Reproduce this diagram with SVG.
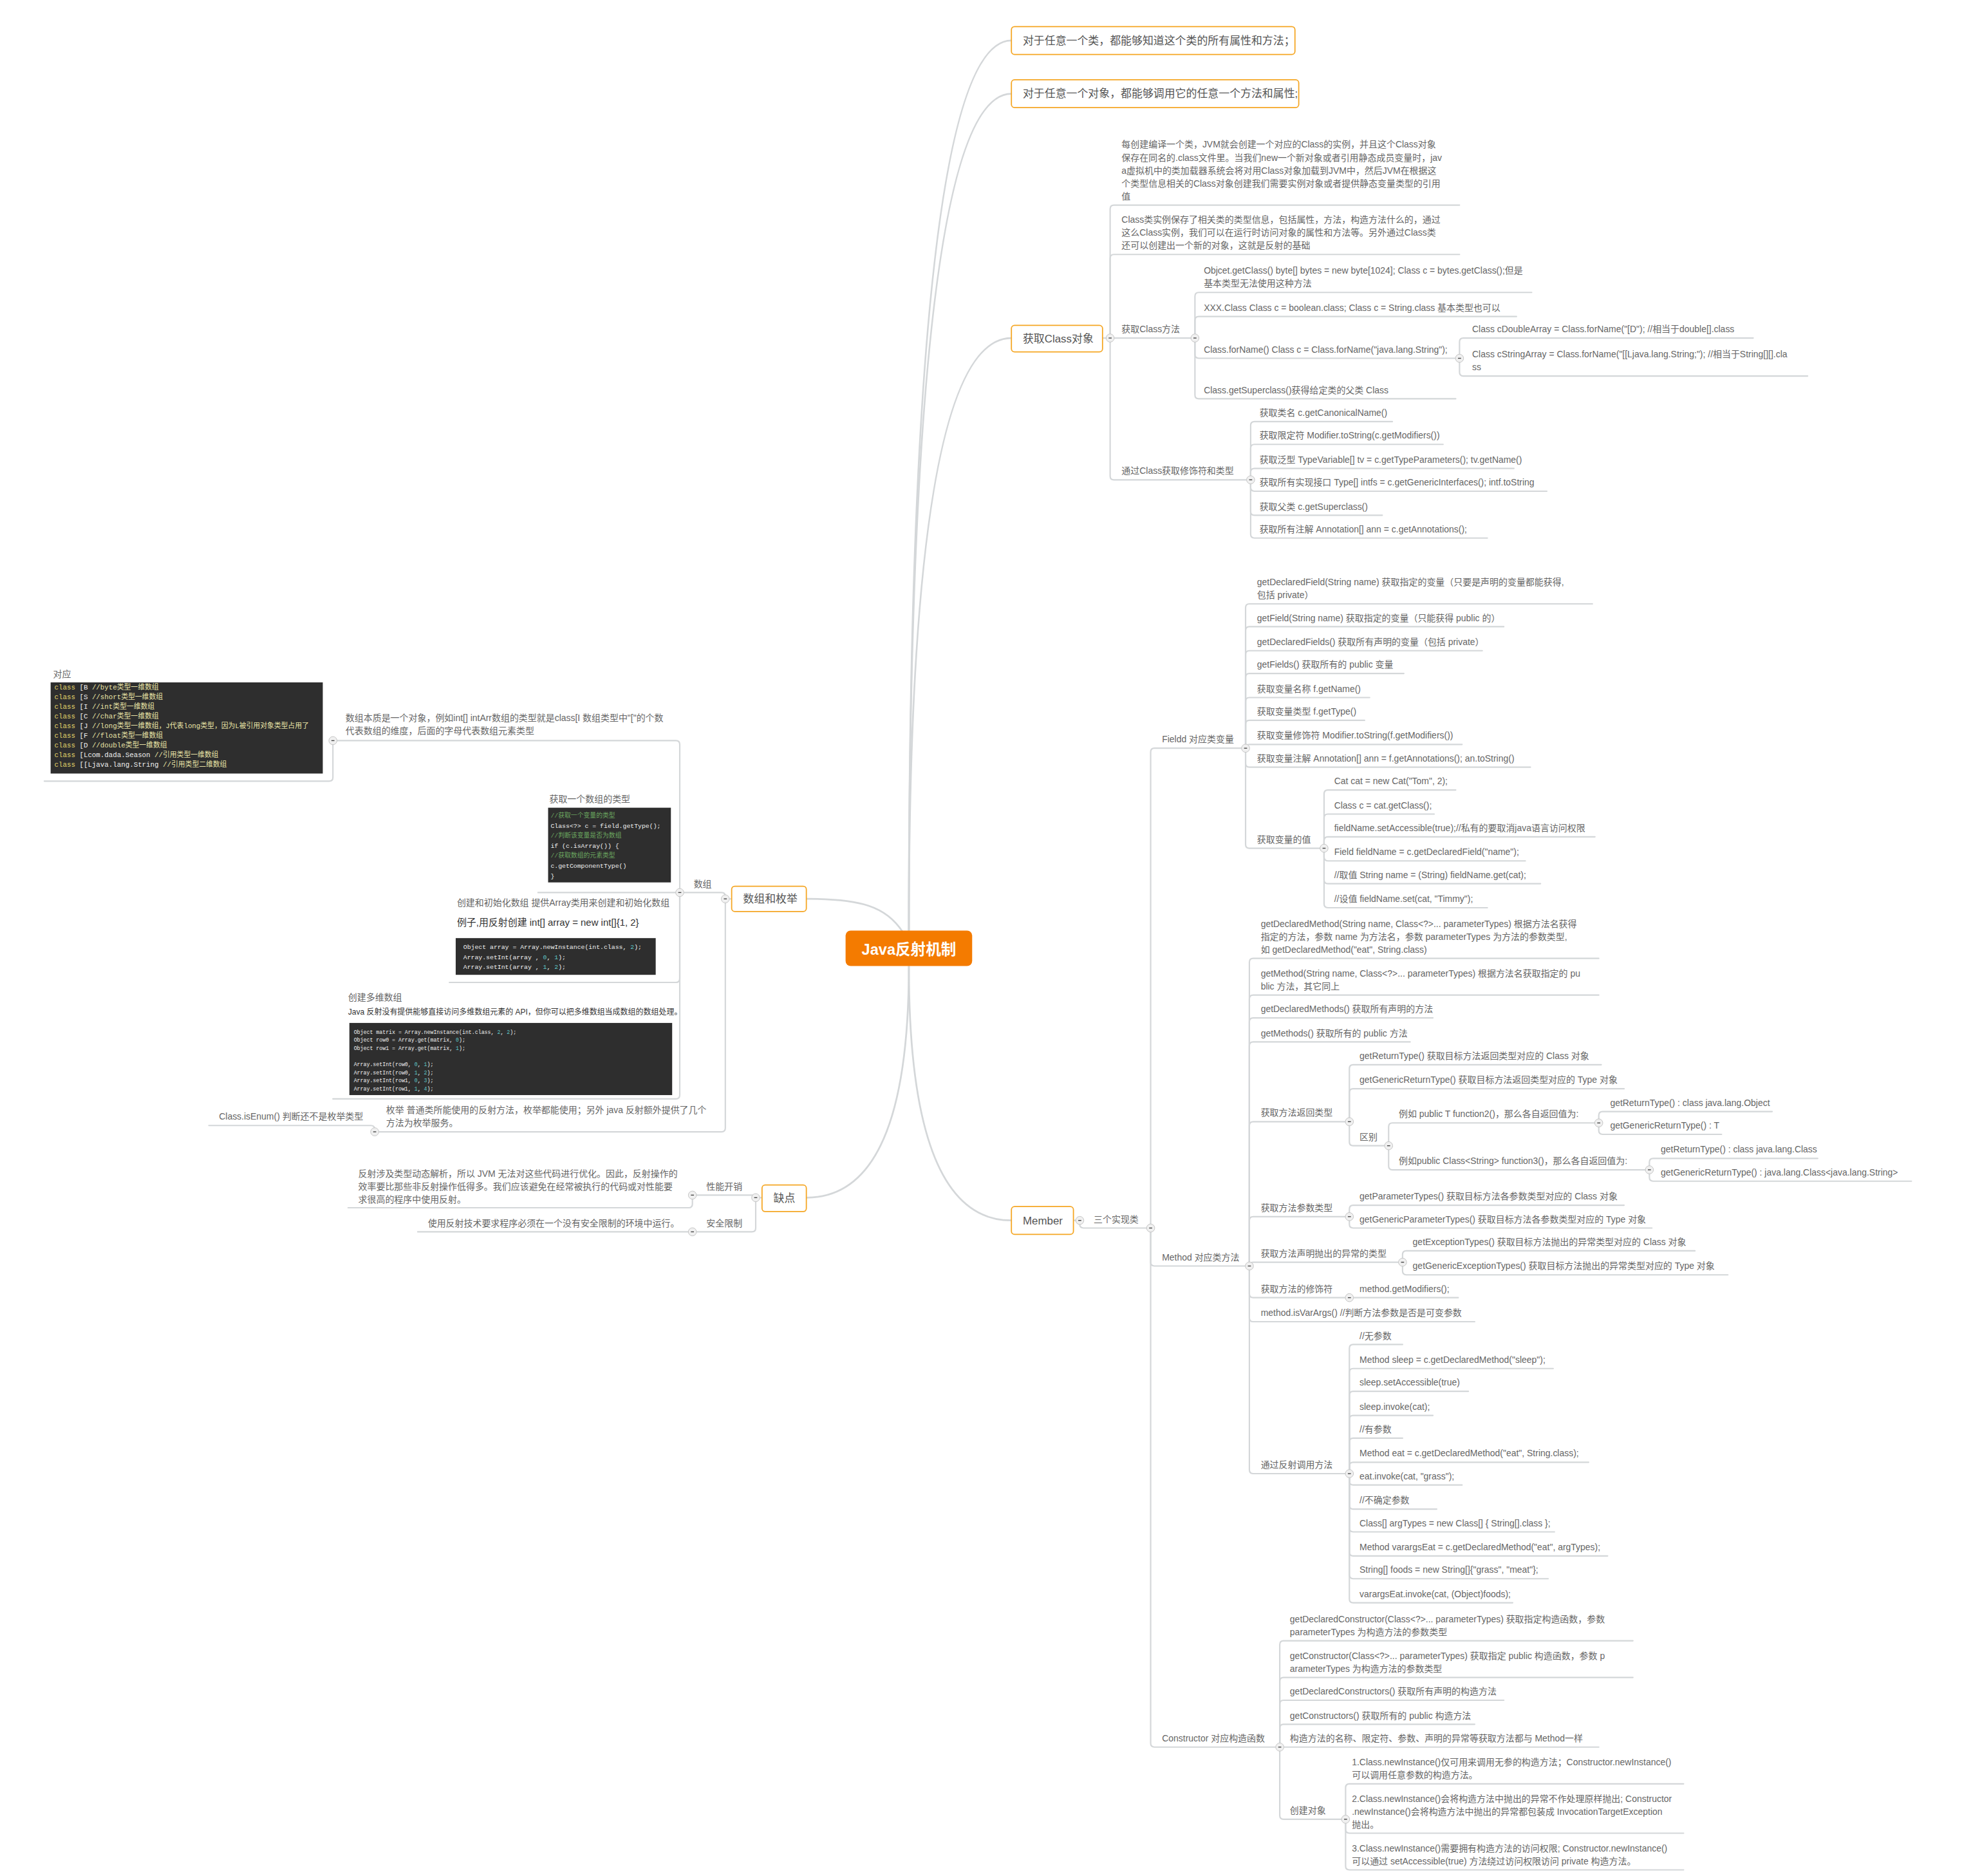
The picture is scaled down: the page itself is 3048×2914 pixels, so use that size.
<svg xmlns="http://www.w3.org/2000/svg" width="3048" height="2914" viewBox="0 0 3048 2914">
<style>
.t{font-family:"Liberation Sans","Noto Sans CJK SC",sans-serif;font-size:7.1px;fill:#666}
.bt{font-family:"Liberation Sans","Noto Sans CJK SC",sans-serif;font-size:8.6px;fill:#555}
.box{fill:#fff;stroke:#f5a623;stroke-width:0.9}
.ln{fill:none;stroke:#d4d7d9;stroke-width:1.1;stroke-linecap:round}
.br{fill:none;stroke:#d4d7d9;stroke-width:1.4}
.code{fill:#2e2e2e}
.mono{font-family:"Liberation Mono","Noto Sans CJK SC",monospace}
.y{fill:#e2d46a}.w{fill:#f0f0f0}.c{fill:#e9e4a6}.g{fill:#6aa45f}.n{fill:#5fc4c4}
.dk{font-family:"Liberation Sans","Noto Sans CJK SC",sans-serif;fill:#333}
</style>
<defs>
<g id="tg"><circle r="3.2" fill="#f0f0f0" stroke="#c4c4c4" stroke-width="0.5"/><rect x="-1.2" y="-0.35" width="2.4" height="0.7" fill="#444"/></g>
</defs>
<rect width="3048" height="2914" fill="#fff"/>
<g transform="scale(1.9665)" xml:space="preserve">
<g id="connectors">
<path class="br" d="M718 735 Q718 32 799 32"/>
<path class="br" d="M718 735 Q718 74 799 74"/>
<path class="br" d="M718 735 Q718 267 799 267"/>
<path class="br" d="M718 763 Q718 964 799 964"/>
<path class="br" d="M713 736 C700 716 680 710 637 710"/>
<path class="br" d="M718 763 Q718 946 637 946"/>
<path class="ln" d="M871 267 H877"/>
<path class="ln" d="M877 267 V165 Q877 162 880 162 H1153"/>
<path class="ln" d="M877 267 V204 Q877 201 880 201 H1153"/>
<path class="ln" d="M877 267 H944"/>
<path class="ln" d="M877 267 V376 Q877 379 880 379 H988"/>
<path class="ln" d="M944 267 V234 Q944 231 947 231 H1210"/>
<path class="ln" d="M944 267 V253 Q944 250 947 250 H1198"/>
<path class="ln" d="M944 267 V280 Q944 283 947 283 H1153"/>
<path class="ln" d="M944 267 V312 Q944 315 947 315 H1150"/>
<path class="ln" d="M1153 283 V270 Q1153 267 1156 267 H1385"/>
<path class="ln" d="M1153 283 V294 Q1153 297 1156 297 H1428"/>
<path class="ln" d="M988 379 V336 Q988 333 991 333 H1100"/>
<path class="ln" d="M988 379 V354 Q988 351 991 351 H1140"/>
<path class="ln" d="M988 379 V373 Q988 370 991 370 H1196"/>
<path class="ln" d="M988 379 V385 Q988 388 991 388 H1222"/>
<path class="ln" d="M988 379 V404 Q988 407 991 407 H1092"/>
<path class="ln" d="M988 379 V422 Q988 425 991 425 H1175"/>
<path class="ln" d="M848 964 H853"/>
<path class="ln" d="M853 964 V967 Q853 970 856 970 H909"/>
<path class="ln" d="M909 970 V594 Q909 591 912 591 H984"/>
<path class="ln" d="M909 970 V997 Q909 1000 912 1000 H987"/>
<path class="ln" d="M909 970 V1377 Q909 1380 912 1380 H1011"/>
<path class="ln" d="M984 591 V480 Q984 477 987 477 H1258"/>
<path class="ln" d="M984 591 V498 Q984 495 987 495 H1188"/>
<path class="ln" d="M984 591 V517 Q984 514 987 514 H1171"/>
<path class="ln" d="M984 591 V535 Q984 532 987 532 H1109"/>
<path class="ln" d="M984 591 V554 Q984 551 987 551 H1082"/>
<path class="ln" d="M984 591 V572 Q984 569 987 569 H1078"/>
<path class="ln" d="M984 591 Q984 588 987 588 H1155"/>
<path class="ln" d="M984 591 V603 Q984 606 987 606 H1209"/>
<path class="ln" d="M984 591 V667 Q984 670 987 670 H1046"/>
<path class="ln" d="M1046 670 V627 Q1046 624 1049 624 H1150"/>
<path class="ln" d="M1046 670 V646 Q1046 643 1049 643 H1133"/>
<path class="ln" d="M1046 670 V664 Q1046 661 1049 661 H1260"/>
<path class="ln" d="M1046 670 V677 Q1046 680 1049 680 H1205"/>
<path class="ln" d="M1046 670 V695 Q1046 698 1049 698 H1217"/>
<path class="ln" d="M1046 670 V714 Q1046 717 1049 717 H1175"/>
<path class="ln" d="M987 1000 V760 Q987 757 990 757 H1263"/>
<path class="ln" d="M987 1000 V789 Q987 786 990 786 H1263"/>
<path class="ln" d="M987 1000 V807 Q987 804 990 804 H1132"/>
<path class="ln" d="M987 1000 V826 Q987 823 990 823 H1114"/>
<path class="ln" d="M987 1000 V889 Q987 886 990 886 H1066"/>
<path class="ln" d="M987 1000 V964 Q987 961 990 961 H1066"/>
<path class="ln" d="M987 1000 Q987 997 990 997 H1108"/>
<path class="ln" d="M987 1000 V1022 Q987 1025 990 1025 H1066"/>
<path class="ln" d="M987 1000 V1041 Q987 1044 990 1044 H1165"/>
<path class="ln" d="M987 1000 V1161 Q987 1164 990 1164 H1066"/>
<path class="ln" d="M1066 886 V844 Q1066 841 1069 841 H1265"/>
<path class="ln" d="M1066 886 V863 Q1066 860 1069 860 H1283"/>
<path class="ln" d="M1066 886 V902 Q1066 905 1069 905 H1097"/>
<path class="ln" d="M1097 905 V890 Q1097 887 1100 887 H1263"/>
<path class="ln" d="M1097 905 V921 Q1097 924 1100 924 H1303"/>
<path class="ln" d="M1263 887 V881 Q1263 878 1266 878 H1400"/>
<path class="ln" d="M1263 887 V893 Q1263 896 1266 896 H1360"/>
<path class="ln" d="M1303 924 V918 Q1303 915 1306 915 H1436"/>
<path class="ln" d="M1303 924 V930 Q1303 933 1306 933 H1510"/>
<path class="ln" d="M1066 961 V955 Q1066 952 1069 952 H1283"/>
<path class="ln" d="M1066 961 V967 Q1066 970 1069 970 H1305"/>
<path class="ln" d="M1108 997 V991 Q1108 988 1111 988 H1339"/>
<path class="ln" d="M1108 997 V1004 Q1108 1007 1111 1007 H1365"/>
<path class="ln" d="M1066 1025 H1152"/>
<path class="ln" d="M1066 1164 V1065 Q1066 1062 1069 1062 H1108"/>
<path class="ln" d="M1066 1164 V1084 Q1066 1081 1069 1081 H1227"/>
<path class="ln" d="M1066 1164 V1102 Q1066 1099 1069 1099 H1160"/>
<path class="ln" d="M1066 1164 V1121 Q1066 1118 1069 1118 H1132"/>
<path class="ln" d="M1066 1164 V1139 Q1066 1136 1069 1136 H1108"/>
<path class="ln" d="M1066 1164 V1158 Q1066 1155 1069 1155 H1255"/>
<path class="ln" d="M1066 1164 V1170 Q1066 1173 1069 1173 H1155"/>
<path class="ln" d="M1066 1164 V1189 Q1066 1192 1069 1192 H1135"/>
<path class="ln" d="M1066 1164 V1207 Q1066 1210 1069 1210 H1228"/>
<path class="ln" d="M1066 1164 V1226 Q1066 1229 1069 1229 H1270"/>
<path class="ln" d="M1066 1164 V1244 Q1066 1247 1069 1247 H1223"/>
<path class="ln" d="M1066 1164 V1263 Q1066 1266 1069 1266 H1195"/>
<path class="ln" d="M1011 1380 V1299 Q1011 1296 1014 1296 H1290"/>
<path class="ln" d="M1011 1380 V1328 Q1011 1325 1014 1325 H1290"/>
<path class="ln" d="M1011 1380 V1346 Q1011 1343 1014 1343 H1188"/>
<path class="ln" d="M1011 1380 V1365 Q1011 1362 1014 1362 H1165"/>
<path class="ln" d="M1011 1380 H1263"/>
<path class="ln" d="M1011 1380 V1434 Q1011 1437 1014 1437 H1063"/>
<path class="ln" d="M1063 1437 V1412 Q1063 1409 1066 1409 H1330"/>
<path class="ln" d="M1063 1437 V1445 Q1063 1448 1066 1448 H1330"/>
<path class="ln" d="M1063 1437 V1474 Q1063 1477 1066 1477 H1330"/>
<path class="ln" d="M578 710 H573"/>
<path class="ln" d="M573 710 V708 Q573 705 570 705 H537"/>
<path class="ln" d="M573 710 V891 Q573 894 570 894 H296"/>
<path class="ln" d="M537 705 V588 Q537 585 534 585 H263"/>
<path class="ln" d="M537 705 H425"/>
<path class="ln" d="M537 705 V773 Q537 776 534 776 H355"/>
<path class="ln" d="M537 705 V865 Q537 868 534 868 H263"/>
<path class="ln" d="M263 585 V614 Q263 617 260 617 H35"/>
<path class="ln" d="M296 894 V892 Q296 889 293 889 H165"/>
<path class="ln" d="M602 946 H597"/>
<path class="ln" d="M597 946 Q597 944 594 944 H547"/>
<path class="ln" d="M597 946 V970 Q597 973 594 973 H547"/>
<path class="ln" d="M547 944 V951 Q547 954 544 954 H275"/>
<path class="ln" d="M547 973 H330"/>
</g>
<g id="toggles">
<use href="#tg" x="877" y="267"/><use href="#tg" x="944" y="267"/><use href="#tg" x="1153" y="283"/><use href="#tg" x="988" y="379"/>
<use href="#tg" x="853" y="964"/><use href="#tg" x="909" y="970"/><use href="#tg" x="984" y="591"/><use href="#tg" x="1046" y="670"/>
<use href="#tg" x="987" y="1000"/><use href="#tg" x="1066" y="886"/><use href="#tg" x="1097" y="905"/><use href="#tg" x="1263" y="887"/>
<use href="#tg" x="1303" y="924"/><use href="#tg" x="1066" y="961"/><use href="#tg" x="1108" y="997"/><use href="#tg" x="1066" y="1025"/>
<use href="#tg" x="1066" y="1164"/><use href="#tg" x="1011" y="1380"/><use href="#tg" x="1063" y="1437"/>
<use href="#tg" x="573" y="710"/><use href="#tg" x="537" y="705"/><use href="#tg" x="263" y="585"/><use href="#tg" x="296" y="894"/>
<use href="#tg" x="597" y="946"/><use href="#tg" x="547" y="944"/><use href="#tg" x="547" y="973"/>
</g>
<g id="n-root"><rect x="668" y="735" width="100" height="28" rx="4" fill="#f47b00"/><text x="718" y="754" text-anchor="middle" font-family="Liberation Sans,Noto Sans CJK SC,sans-serif" font-size="12" font-weight="bold" fill="#fff">Java反射机制</text></g>
<g id="n-b1"><rect class="box" x="799" y="21" width="224" height="22" rx="2.5"/><text class="bt" x="808" y="35">对于任意一个类，都能够知道这个类的所有属性和方法；</text></g>
<g id="n-b2"><rect class="box" x="799" y="63" width="227" height="22" rx="2.5"/><text class="bt" x="808" y="77">对于任意一个对象，都能够调用它的任意一个方法和属性;</text></g>
<g id="n-getclass"><rect class="box" x="799" y="257" width="72" height="21" rx="2.5"/><text class="bt" x="808" y="270.5">获取Class对象</text></g>
<g id="n-member"><rect class="box" x="799" y="953" width="49" height="22" rx="2.5"/><text class="bt" x="808" y="967">Member</text></g>
<g id="n-array-enum"><rect class="box" x="578" y="700" width="59" height="20" rx="2.5"/><text class="bt" x="587" y="713">数组和枚举</text></g>
<g id="n-cons"><rect class="box" x="602" y="936" width="35" height="21" rx="2.5"/><text class="bt" x="611" y="949.5">缺点</text></g>
<g id="n-gc-a"><text class="t"><tspan x="886" y="116.7">每创建编译一个类，JVM就会创建一个对应的Class的实例，并且这个Class对象</tspan><tspan x="886" y="126.9">保存在同名的.class文件里。当我们new一个新对象或者引用静态成员变量时，jav</tspan><tspan x="886" y="137.1">a虚拟机中的类加载器系统会将对用Class对象加载到JVM中，然后JVM在根据这</tspan><tspan x="886" y="147.3">个类型信息相关的Class对象创建我们需要实例对象或者提供静态变量类型的引用</tspan><tspan x="886" y="157.5">值</tspan></text></g>
<g id="n-gc-b"><text class="t"><tspan x="886" y="176.1">Class类实例保存了相关类的类型信息，包括属性，方法，构造方法什么的，通过</tspan><tspan x="886" y="186.3">这么Class实例，我们可以在运行时访问对象的属性和方法等。另外通过Class类</tspan><tspan x="886" y="196.5">还可以创建出一个新的对象，这就是反射的基础</tspan></text></g>
<g id="n-gc-c"><text class="t" x="886" y="262.5">获取Class方法</text></g>
<g id="n-gc-c1"><text class="t"><tspan x="951" y="216.3">Objcet.getClass() byte[] bytes = new byte[1024]; Class c = bytes.getClass();但是</tspan><tspan x="951" y="226.5">基本类型无法使用这种方法</tspan></text></g>
<g id="n-gc-c2"><text class="t" x="951" y="245.5">XXX.Class Class c = boolean.class;  Class c = String.class 基本类型也可以</text></g>
<g id="n-gc-c3"><text class="t" x="951" y="278.5">Class.forName() Class c = Class.forName("java.lang.String");</text></g>
<g id="n-gc-c4"><text class="t" x="951" y="310.5">Class.getSuperclass()获得给定类的父类 Class</text></g>
<g id="n-gc-c3a"><text class="t" x="1163" y="262.5">Class cDoubleArray = Class.forName("[D");    //相当于double[].class</text></g>
<g id="n-gc-c3b"><text class="t"><tspan x="1163" y="282.3">Class cStringArray = Class.forName("[[Ljava.lang.String;");   //相当于String[][].cla</tspan><tspan x="1163" y="292.5">ss</tspan></text></g>
<g id="n-gc-d"><text class="t" x="886" y="374.5">通过Class获取修饰符和类型</text></g>
<g id="n-gc-d1"><text class="t" x="995" y="328.5">获取类名 c.getCanonicalName()</text></g>
<g id="n-gc-d2"><text class="t" x="995" y="346.5">获取限定符 Modifier.toString(c.getModifiers())</text></g>
<g id="n-gc-d3"><text class="t" x="995" y="365.5">获取泛型  TypeVariable[] tv = c.getTypeParameters(); tv.getName()</text></g>
<g id="n-gc-d4"><text class="t" x="995" y="383.5">获取所有实现接口  Type[] intfs = c.getGenericInterfaces(); intf.toString</text></g>
<g id="n-gc-d5"><text class="t" x="995" y="402.5">获取父类 c.getSuperclass()</text></g>
<g id="n-gc-d6"><text class="t" x="995" y="420.5">获取所有注解  Annotation[] ann = c.getAnnotations();</text></g>
<g id="n-three"><text class="t" x="864" y="965.5">三个实现类</text></g>
<g id="n-field"><text class="t" x="918" y="586.5">Fieldd 对应类变量</text></g>
<g id="n-method"><text class="t" x="918" y="995.5">Method 对应类方法</text></g>
<g id="n-constructor"><text class="t" x="918" y="1375.5">Constructor 对应构造函数</text></g>
<g id="n-f1"><text class="t"><tspan x="993" y="462.3">getDeclaredField(String name) 获取指定的变量（只要是声明的变量都能获得,</tspan><tspan x="993" y="472.5">包括 private）</tspan></text></g>
<g id="n-f2"><text class="t" x="993" y="490.5">getField(String name) 获取指定的变量（只能获得 public 的）</text></g>
<g id="n-f3"><text class="t" x="993" y="509.5">getDeclaredFields() 获取所有声明的变量（包括 private）</text></g>
<g id="n-f4"><text class="t" x="993" y="527.5">getFields() 获取所有的 public 变量</text></g>
<g id="n-f5"><text class="t" x="993" y="546.5">获取变量名称 f.getName()</text></g>
<g id="n-f6"><text class="t" x="993" y="564.5">获取变量类型 f.getType()</text></g>
<g id="n-f7"><text class="t" x="993" y="583.5">获取变量修饰符 Modifier.toString(f.getModifiers())</text></g>
<g id="n-f8"><text class="t" x="993" y="601.5">获取变量注解    Annotation[] ann = f.getAnnotations(); an.toString()</text></g>
<g id="n-f9"><text class="t" x="993" y="665.5">获取变量的值</text></g>
<g id="n-v1"><text class="t" x="1054" y="619.5">Cat cat = new Cat("Tom", 2);</text></g>
<g id="n-v2"><text class="t" x="1054" y="638.5">Class c = cat.getClass();</text></g>
<g id="n-v3"><text class="t" x="1054" y="656.5">fieldName.setAccessible(true);//私有的要取消java语言访问权限</text></g>
<g id="n-v4"><text class="t" x="1054" y="675.5">Field fieldName = c.getDeclaredField("name");</text></g>
<g id="n-v5"><text class="t" x="1054" y="693.5">//取值   String name = (String) fieldName.get(cat);</text></g>
<g id="n-v6"><text class="t" x="1054" y="712.5">//设值   fieldName.set(cat, "Timmy");</text></g>
<g id="n-m1"><text class="t"><tspan x="996" y="732.1">getDeclaredMethod(String name, Class&lt;?&gt;... parameterTypes) 根据方法名获得</tspan><tspan x="996" y="742.3">指定的方法，参数 name 为方法名，参数 parameterTypes 为方法的参数类型,</tspan><tspan x="996" y="752.5">如 getDeclaredMethod("eat", String.class)</tspan></text></g>
<g id="n-m2"><text class="t"><tspan x="996" y="771.3">getMethod(String name, Class&lt;?&gt;... parameterTypes) 根据方法名获取指定的 pu</tspan><tspan x="996" y="781.5">blic 方法，其它同上</tspan></text></g>
<g id="n-m3"><text class="t" x="996" y="799.5">getDeclaredMethods() 获取所有声明的方法</text></g>
<g id="n-m4"><text class="t" x="996" y="818.5">getMethods() 获取所有的 public 方法</text></g>
<g id="n-m5"><text class="t" x="996" y="881.5">获取方法返回类型</text></g>
<g id="n-m6"><text class="t" x="996" y="956.5">获取方法参数类型</text></g>
<g id="n-m7"><text class="t" x="996" y="992.5">获取方法声明抛出的异常的类型</text></g>
<g id="n-m8"><text class="t" x="996" y="1020.5">获取方法的修饰符</text></g>
<g id="n-m9"><text class="t" x="996" y="1039.5">method.isVarArgs() //判断方法参数是否是可变参数</text></g>
<g id="n-m10"><text class="t" x="996" y="1159.5">通过反射调用方法</text></g>
<g id="n-m5a"><text class="t" x="1074" y="836.5">getReturnType()   获取目标方法返回类型对应的 Class 对象</text></g>
<g id="n-m5b"><text class="t" x="1074" y="855.5">getGenericReturnType()  获取目标方法返回类型对应的 Type 对象</text></g>
<g id="n-m5c"><text class="t" x="1074" y="900.5">区别</text></g>
<g id="n-e1"><text class="t" x="1105" y="882.5">例如 public T function2()，那么各自返回值为:</text></g>
<g id="n-e2"><text class="t" x="1105" y="919.5">例如public Class&lt;String&gt; function3()，那么各自返回值为:</text></g>
<g id="n-e1a"><text class="t" x="1272" y="873.5">getReturnType() : class java.lang.Object</text></g>
<g id="n-e1b"><text class="t" x="1272" y="891.5">getGenericReturnType() : T</text></g>
<g id="n-e2a"><text class="t" x="1312" y="910.5">getReturnType() : class java.lang.Class</text></g>
<g id="n-e2b"><text class="t" x="1312" y="928.5">getGenericReturnType() : java.lang.Class&lt;java.lang.String&gt;</text></g>
<g id="n-m6a"><text class="t" x="1074" y="947.5">getParameterTypes() 获取目标方法各参数类型对应的 Class 对象</text></g>
<g id="n-m6b"><text class="t" x="1074" y="965.5">getGenericParameterTypes() 获取目标方法各参数类型对应的 Type 对象</text></g>
<g id="n-m7a"><text class="t" x="1116" y="983.5">getExceptionTypes() 获取目标方法抛出的异常类型对应的 Class 对象</text></g>
<g id="n-m7b"><text class="t" x="1116" y="1002.5">getGenericExceptionTypes()  获取目标方法抛出的异常类型对应的 Type 对象</text></g>
<g id="n-m8a"><text class="t" x="1074" y="1020.5">method.getModifiers();</text></g>
<g id="n-i1"><text class="t" x="1074" y="1057.5">//无参数</text></g>
<g id="n-i2"><text class="t" x="1074" y="1076.5">Method sleep = c.getDeclaredMethod("sleep");</text></g>
<g id="n-i3"><text class="t" x="1074" y="1094.5">sleep.setAccessible(true)</text></g>
<g id="n-i4"><text class="t" x="1074" y="1113.5">sleep.invoke(cat);</text></g>
<g id="n-i5"><text class="t" x="1074" y="1131.5">//有参数</text></g>
<g id="n-i6"><text class="t" x="1074" y="1150.5">Method eat = c.getDeclaredMethod("eat", String.class);</text></g>
<g id="n-i7"><text class="t" x="1074" y="1168.5">eat.invoke(cat, "grass");</text></g>
<g id="n-i8"><text class="t" x="1074" y="1187.5">//不确定参数</text></g>
<g id="n-i9"><text class="t" x="1074" y="1205.5">Class[] argTypes = new Class[] { String[].class };</text></g>
<g id="n-i10"><text class="t" x="1074" y="1224.5">Method varargsEat = c.getDeclaredMethod("eat", argTypes);</text></g>
<g id="n-i11"><text class="t" x="1074" y="1242.5">String[] foods = new String[]{"grass", "meat"};</text></g>
<g id="n-i12"><text class="t" x="1074" y="1261.5">varargsEat.invoke(cat, (Object)foods);</text></g>
<g id="n-k1"><text class="t"><tspan x="1019" y="1281.3">getDeclaredConstructor(Class&lt;?&gt;... parameterTypes) 获取指定构造函数，参数</tspan><tspan x="1019" y="1291.5">parameterTypes 为构造方法的参数类型</tspan></text></g>
<g id="n-k2"><text class="t"><tspan x="1019" y="1310.3">getConstructor(Class&lt;?&gt;... parameterTypes) 获取指定 public 构造函数，参数 p</tspan><tspan x="1019" y="1320.5">arameterTypes 为构造方法的参数类型</tspan></text></g>
<g id="n-k3"><text class="t" x="1019" y="1338.5">getDeclaredConstructors() 获取所有声明的构造方法</text></g>
<g id="n-k4"><text class="t" x="1019" y="1357.5">getConstructors() 获取所有的 public 构造方法</text></g>
<g id="n-k5"><text class="t" x="1019" y="1375.5">构造方法的名称、限定符、参数、声明的异常等获取方法都与 Method一样</text></g>
<g id="n-k6"><text class="t" x="1019" y="1432.5">创建对象</text></g>
<g id="n-n1"><text class="t"><tspan x="1068" y="1394.3">1.Class.newInstance()仅可用来调用无参的构造方法；Constructor.newInstance()</tspan><tspan x="1068" y="1404.5">可以调用任意参数的构造方法。</tspan></text></g>
<g id="n-n2"><text class="t"><tspan x="1068" y="1423.1">2.Class.newInstance()会将构造方法中抛出的异常不作处理原样抛出; Constructor</tspan><tspan x="1068" y="1433.3">.newInstance()会将构造方法中抛出的异常都包装成 InvocationTargetException</tspan><tspan x="1068" y="1443.5">抛出。</tspan></text></g>
<g id="n-n3"><text class="t"><tspan x="1068" y="1462.3">3.Class.newInstance()需要拥有构造方法的访问权限; Constructor.newInstance()</tspan><tspan x="1068" y="1472.5">可以通过 setAccessible(true) 方法绕过访问权限访问 private 构造方法。</tspan></text></g>
<g id="n-array"><text class="t" x="548" y="700.5">数组</text></g>
<g id="n-array-essence"><text class="t"><tspan x="273" y="569.3">数组本质是一个对象，例如int[] intArr数组的类型就是class[I 数组类型中"["的个数</tspan><tspan x="273" y="579.5">代表数组的维度，后面的字母代表数组元素类型</tspan></text></g>
<g id="n-array-map"><text class="t" x="42" y="535">对应</text><rect class="code" x="40" y="539" width="215" height="72"/>
<text class="mono" font-size="5.5" x="43" y="544.6"><tspan class="y">class</tspan><tspan class="w"> [B  </tspan><tspan class="c">//byte类型一维数组</tspan></text>
<text class="mono" font-size="5.5" x="43" y="552.2"><tspan class="y">class</tspan><tspan class="w"> [S  </tspan><tspan class="c">//short类型一维数组</tspan></text>
<text class="mono" font-size="5.5" x="43" y="559.9"><tspan class="y">class</tspan><tspan class="w"> [I  </tspan><tspan class="c">//int类型一维数组</tspan></text>
<text class="mono" font-size="5.5" x="43" y="567.5"><tspan class="y">class</tspan><tspan class="w"> [C  </tspan><tspan class="c">//char类型一维数组</tspan></text>
<text class="mono" font-size="5.5" x="43" y="575.2"><tspan class="y">class</tspan><tspan class="w"> [J  </tspan><tspan class="c">//long类型一维数组，J代表long类型，因为L被引用对象类型占用了</tspan></text>
<text class="mono" font-size="5.5" x="43" y="582.8"><tspan class="y">class</tspan><tspan class="w"> [F  </tspan><tspan class="c">//float类型一维数组</tspan></text>
<text class="mono" font-size="5.5" x="43" y="590.4"><tspan class="y">class</tspan><tspan class="w"> [D  </tspan><tspan class="c">//double类型一维数组</tspan></text>
<text class="mono" font-size="5.5" x="43" y="598.1"><tspan class="y">class</tspan><tspan class="w"> [Lcom.dada.Season  </tspan><tspan class="c">//引用类型一维数组</tspan></text>
<text class="mono" font-size="5.5" x="43" y="605.7"><tspan class="y">class</tspan><tspan class="w"> [[Ljava.lang.String </tspan><tspan class="c">//引用类型二维数组</tspan></text>
</g>
<g id="n-array-type"><text class="t" x="434" y="633.5">获取一个数组的类型</text><rect class="code" x="433" y="638" width="97" height="59"/>
<text class="mono g" font-size="5" x="435" y="645.7">//获取一个变量的类型</text>
<text class="mono w" font-size="5" x="435" y="653.9">Class&lt;?&gt; c = field.getType();</text>
<text class="mono g" font-size="5" x="435" y="661.5">//判断该变量是否为数组</text>
<text class="mono w" font-size="5" x="435" y="669.7">if (c.isArray()) {</text>
<text class="mono g" font-size="5" x="435" y="677.3">  //获取数组的元素类型</text>
<text class="mono w" font-size="5" x="435" y="685.6">  c.getComponentType()</text>
<text class="mono w" font-size="5" x="435" y="693.7">}</text>
</g>
<g id="n-array-create"><text class="t" x="361" y="715.5">创建和初始化数组 提供Array类用来创建和初始化数组</text><text class="dk" font-size="7.6" x="361" y="731.5">例子,用反射创建 int[] array = new int[]{1, 2}</text><rect class="code" x="360" y="741" width="158" height="29"/>
<text class="mono w" font-size="5" x="366" y="749.5">Object array = Array.newInstance(int.class, <tspan class="n">2</tspan>);</text>
<text class="mono w" font-size="5" x="366" y="757.5">Array.setInt(array , <tspan class="n">0</tspan>, <tspan class="n">1</tspan>);</text>
<text class="mono w" font-size="5" x="366" y="765.5">Array.setInt(array , <tspan class="n">1</tspan>, <tspan class="n">2</tspan>);</text>
</g>
<g id="n-array-multi"><text class="t" x="275" y="790">创建多维数组</text><text class="dk" font-size="6.1" x="275" y="801.5">Java 反射没有提供能够直接访问多维数组元素的 API，但你可以把多维数组当成数组的数组处理。</text><rect class="code" x="276" y="808" width="255" height="57"/>
<text class="mono w" font-size="4.2" x="279.5" y="816.5">Object matrix = Array.newInstance(int.class, <tspan class="n">2</tspan>, <tspan class="n">2</tspan>);</text>
<text class="mono w" font-size="4.2" x="279.5" y="823">Object row0 = Array.get(matrix, <tspan class="n">0</tspan>);</text>
<text class="mono w" font-size="4.2" x="279.5" y="829.4">Object row1 = Array.get(matrix, <tspan class="n">1</tspan>);</text>
<text class="mono w" font-size="4.2" x="279.5" y="842.1">Array.setInt(row0, <tspan class="n">0</tspan>, <tspan class="n">1</tspan>);</text>
<text class="mono w" font-size="4.2" x="279.5" y="848.6">Array.setInt(row0, <tspan class="n">1</tspan>, <tspan class="n">2</tspan>);</text>
<text class="mono w" font-size="4.2" x="279.5" y="854.9">Array.setInt(row1, <tspan class="n">0</tspan>, <tspan class="n">3</tspan>);</text>
<text class="mono w" font-size="4.2" x="279.5" y="861.3">Array.setInt(row1, <tspan class="n">1</tspan>, <tspan class="n">4</tspan>);</text>
</g>
<g id="n-enum"><text class="t"><tspan x="305" y="879.3">枚举 普通类所能使用的反射方法，枚举都能使用；另外 java 反射额外提供了几个</tspan><tspan x="305" y="889.5">方法为枚举服务。</tspan></text></g>
<g id="n-isenum"><text class="t" x="173" y="884.5">Class.isEnum() 判断还不是枚举类型</text></g>
<g id="n-perf"><text class="t" x="558" y="939.5">性能开销</text></g>
<g id="n-perf-d"><text class="t"><tspan x="283" y="929.6">反射涉及类型动态解析，所以 JVM 无法对这些代码进行优化。因此，反射操作的</tspan><tspan x="283" y="939.8">效率要比那些非反射操作低得多。我们应该避免在经常被执行的代码或对性能要</tspan><tspan x="283" y="950">求很高的程序中使用反射。</tspan></text></g>
<g id="n-sec"><text class="t" x="558" y="968.5">安全限制</text></g>
<g id="n-sec-d"><text class="t" x="338" y="968.5">使用反射技术要求程序必须在一个没有安全限制的环境中运行。</text></g>
</g>
</svg>
